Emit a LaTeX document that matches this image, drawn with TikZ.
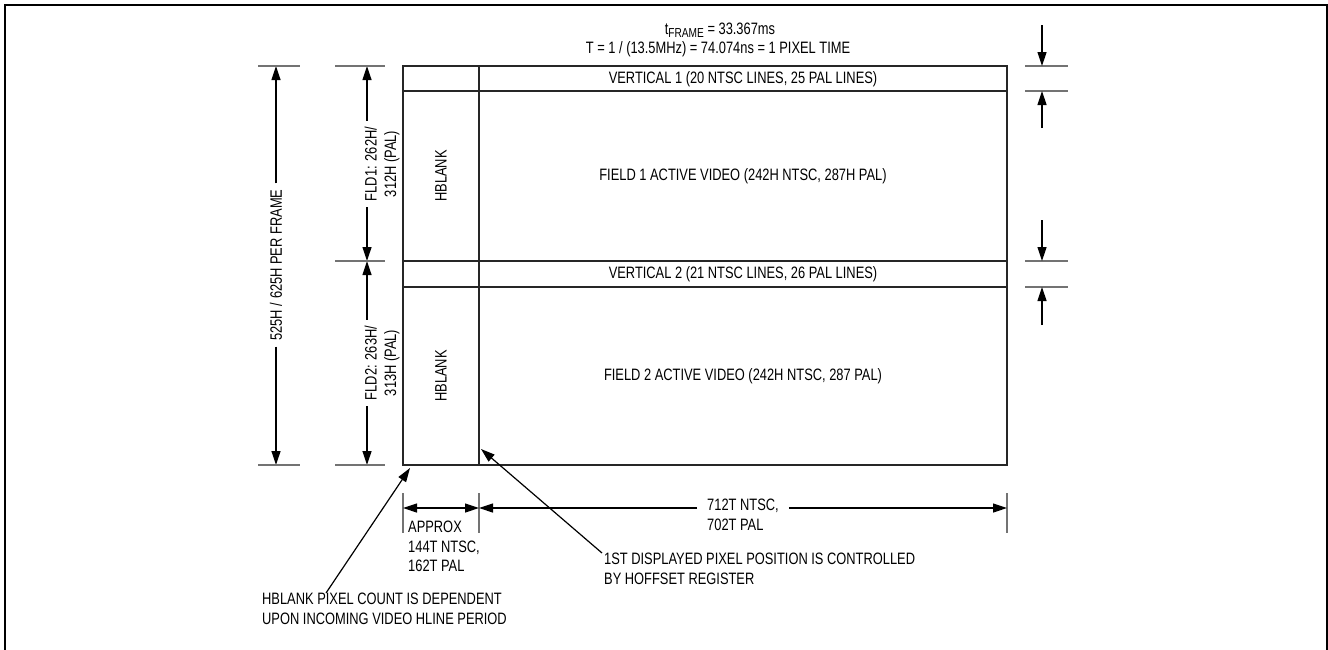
\documentclass[tikz,border=0pt]{standalone}
\usepackage{fontspec}
\setmainfont{Liberation Sans}[FakeStretch=0.78]
\usetikzlibrary{arrows.meta}

\tikzset{
  dimline/.style={-{Triangle[length=14pt,width=9pt]}, line width=1.2pt},
  extline/.style={black!55, line width=1.4pt},
  boxline/.style={black!85, line width=1.4pt},
  lbl/.style={inner sep=0pt, align=left},
}

\begin{document}
\begin{tikzpicture}[x=1pt,y=-1pt,font=\fontsize{16.5}{19.5}\selectfont]
    \useasboundingbox (0,0) rectangle (1328,649);
    \draw[line width=2.7pt] (5,660) -- (5,5) -- (1327,5) -- (1327,660);

    % frame of the picture
    \draw[boxline] (403,66) rectangle (1007,465);
    \draw[boxline] (403,91) -- (1007,91);
    \draw[boxline] (403,261) -- (1007,261);
    \draw[boxline] (403,287) -- (1007,287);
    \draw[boxline] (479,66) -- (479,465);

    \node (vert1) at (743,79) {VERTICAL 1 (20 NTSC LINES, 25 PAL LINES)};
    \node (field1) at (743,176) {FIELD 1 ACTIVE VIDEO (242H NTSC, 287H PAL)};
    \node (vert2) at (743,274) {VERTICAL 2 (21 NTSC LINES, 26 PAL LINES)};
    \node (field2) at (743,376) {FIELD 2 ACTIVE VIDEO (242H NTSC, 287 PAL)};
    \node[rotate=90] (hblank1) at (441,176) {HBLANK};
    \node[rotate=90] (hblank2) at (441,376) {HBLANK};

    % timing
    \node (tframe) at (720,30) {t\raisebox{-0.35ex}{\fontsize{13}{13}\selectfont FRAME} = 33.367ms};
    \node (ptime) at (718,49) {T = 1 / (13.5MHz) = 74.074ns = 1 PIXEL TIME};

    % lines per frame
    \coordinate (frmtop) at (276,66);
    \coordinate (frmbot) at (276,465);
    \node[rotate=90, inner sep=6pt] (frm) at (276,265) {525H / 625H PER FRAME};
    \draw[dimline] (frm) -- (frmtop);
    \draw[dimline] (frm) -- (frmbot);
    \draw[extline] (258,66) -- (300,66);
    \draw[extline] (258,465) -- (300,465);

    % lines per field
    \coordinate (fldtop) at (367,66);
    \coordinate (fldmid) at (367,261);
    \coordinate (fldbot) at (367,465);
    \node[rotate=90, align=center, inner sep=6pt] (fld1) at (382,164) {FLD1: 262H/\\312H (PAL)};
    \node[rotate=90, align=center, inner sep=6pt] (fld2) at (382,363) {FLD2: 263H/\\313H (PAL)};
    \draw[dimline] (fld1.east -| fldtop) -- (fldtop);
    \draw[dimline] (fld1.west -| fldmid) -- (fldmid);
    \draw[dimline] (fld2.east -| fldmid) -- (fldmid);
    \draw[dimline] (fld2.west -| fldbot) -- (fldbot);
    \foreach \y in {66,261,465}
      \draw[extline] (335,\y) -- (385,\y);

    % vertical blanking
    \foreach \y in {66,91,261,287}
      \draw[extline] (1025,\y) -- (1068,\y);
    \coordinate (v1a) at (1042,25);
    \coordinate (v1b) at (1042,128);
    \coordinate (v2a) at (1042,220);
    \coordinate (v2b) at (1042,325);
    \draw[dimline] (v1a) -- (1042,66);
    \draw[dimline] (v1b) -- (1042,91);
    \draw[dimline] (v2a) -- (1042,261);
    \draw[dimline] (v2b) -- (1042,287);

    % pixels per line
    \foreach \x in {403,479,1007}
      \draw[extline] (\x,493) -- (\x,533);
    \coordinate (hbl) at (403,508);
    \coordinate (hbr) at (479,508);
    \coordinate (actr) at (1007,508);
    \draw[dimline, {Triangle[length=14pt,width=9pt]}-{Triangle[length=14pt,width=9pt]}] (hbl) -- (hbr);
    \node[lbl, anchor=north west] (approx) at (408,521) {APPROX\\144T NTSC,\\162T PAL};
    \node[lbl, inner xsep=10pt, anchor=north west] (act) at (697,499) {712T NTSC,\\702T PAL};
    \draw[dimline] (act.west |- hbr) -- (hbr);
    \draw[dimline] (act.east |- actr) -- (actr);

    % notes
    \node[lbl, anchor=north west] (hbnote) at (262,593) {HBLANK PIXEL COUNT IS DEPENDENT\\UPON INCOMING VIDEO HLINE PERIOD};
    \node[lbl, anchor=north west] (pxnote) at (604,553) {1ST DISPLAYED PIXEL POSITION IS CONTROLLED\\BY HOFFSET REGISTER};
    \coordinate (hbtip) at (410,468);
    \coordinate (pxtip) at (481,449);
    \draw[dimline] ([xshift=64pt]hbnote.north west) -- (hbtip);
    \draw[dimline] ([xshift=-2pt]pxnote.north west) -- (pxtip);
\end{tikzpicture}
\end{document}
